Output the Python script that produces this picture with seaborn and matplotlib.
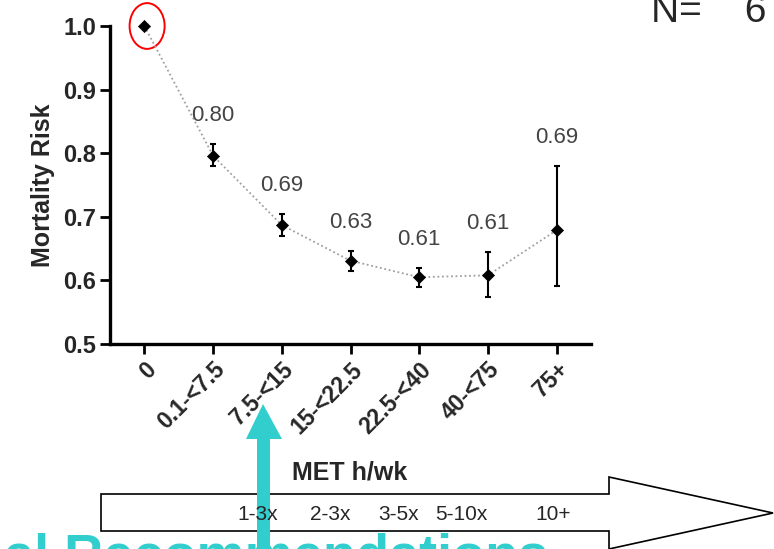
import numpy as np
import pandas as pd
import matplotlib
matplotlib.use("Agg")
import matplotlib.pyplot as plt
import seaborn as sns
from matplotlib.patches import Ellipse, Polygon

# ==========================================
# Data
# ==========================================
met_groups = ['0', '0.1-<7.5', '7.5-<15', '15-<22.5', '22.5-<40', '40-<75', '75+']
risk = [1.0, 0.796, 0.687, 0.631, 0.605, 0.608, 0.679]
ci_low = [1.0, 0.780, 0.670, 0.615, 0.589, 0.574, 0.591]
ci_high = [1.0, 0.814, 0.704, 0.646, 0.619, 0.644, 0.780]
value_labels = ['', '0.80', '0.69', '0.63', '0.61', '0.61', '0.69']
freq_labels = ['1-3x', '2-3x', '3-5x', '5-10x', '10+']

df = pd.DataFrame({'pos': np.arange(len(met_groups)), 'group': met_groups, 'risk': risk})

W, H = 774, 549
TEAL = '#32CDCD'


def px(x, y):
    # pixel position -> figure fraction
    return (x / W, 1 - y / H)


sns.set_style('ticks')
plt.rcParams['font.family'] = ['Liberation Sans', 'DejaVu Sans']

fig = plt.figure(figsize=(W / 100, H / 100), dpi=100)
ax = fig.add_axes([110 / W, 1 - 344 / H, (591 - 110) / W, (344 - 26) / H])

# dotted connecting line
sns.lineplot(data=df, x='pos', y='risk', ax=ax, color='#a0a0a0',
             linestyle=(0, (1, 1.5)), linewidth=1.3, clip_on=False)
# error bars
yerr = [np.array(risk) - np.array(ci_low), np.array(ci_high) - np.array(risk)]
ax.errorbar(df['pos'], df['risk'], yerr=yerr, fmt='none', ecolor='black',
            elinewidth=1.5, capsize=2.5, capthick=1.5, clip_on=False, zorder=3)
# diamond markers
sns.scatterplot(data=df, x='pos', y='risk', ax=ax, marker='D', s=38,
                color='black', edgecolor='black', zorder=4, clip_on=False)

# value labels above the upper CI
for i, lab in enumerate(value_labels):
    if lab:
        ax.annotate(lab, (df['pos'][i], ci_high[i]), xytext=(0, 13),
                    textcoords='offset points', ha='center', va='bottom',
                    fontsize=16, color='#444444')

# red ellipse around the reference point
ax.add_patch(Ellipse((0.04, 1.0), width=0.51, height=0.072, fill=False,
                     edgecolor='red', linewidth=1.4, clip_on=False))

ax.set_xlim(-0.5, 6.5)
ax.set_ylim(0.5, 1.0)
ax.set_yticks([0.5, 0.6, 0.7, 0.8, 0.9, 1.0])
ax.set_yticklabels([f'{v:.1f}' for v in [0.5, 0.6, 0.7, 0.8, 0.9, 1.0]],
                   fontsize=17, fontweight='bold')
ax.set_xticks(df['pos'])
ax.set_xticklabels(met_groups, rotation=45, ha='right', rotation_mode='anchor',
                   fontsize=16.5, fontweight='bold')
ax.set_xlabel('')
ax.set_ylabel('Mortality Risk', fontsize=18, fontweight='bold', labelpad=6)
ax.tick_params(axis='both', width=2, length=7, color='black', pad=3)
for s in ['left', 'bottom']:
    ax.spines[s].set_linewidth(2.4)
    ax.spines[s].set_color('black')
sns.despine(ax=ax)

# axis caption
fig.text(*px(350, 472), 'MET h/wk', ha='center', va='center',
         fontsize=18, fontweight='bold')

# big white arrow
arrow_pts = [px(101, 494), px(609, 494), px(609, 477), px(773, 513),
             px(609, 549), px(609, 531), px(101, 531)]
fig.add_artist(Polygon(arrow_pts, closed=True, transform=fig.transFigure,
                       facecolor='white', edgecolor='black', linewidth=1.2))
freq_x = [258, 330, 399, 461, 553]
for xp, lab in zip(freq_x, freq_labels):
    fig.text(*px(xp, 514), lab, ha='center', va='center', fontsize=15,
             family=['Liberation Sans Narrow', 'Liberation Sans', 'DejaVu Sans'])

# teal arrow
teal_pts = [px(257, 549), px(257, 439), px(246, 439), px(263, 404),
            px(282, 439), px(270, 439), px(270, 549)]
fig.add_artist(Polygon(teal_pts, closed=True, transform=fig.transFigure,
                       facecolor=TEAL, edgecolor='none'))

# clipped texts at the edges
fig.text(*px(4, 571), 'al Recommendations', ha='left', va='baseline',
         fontsize=39, fontweight='bold', color=TEAL)
fig.text(*px(651, 22), 'N=    6', ha='left', va='baseline', fontsize=28)

plt.savefig('out.png', dpi=100)
